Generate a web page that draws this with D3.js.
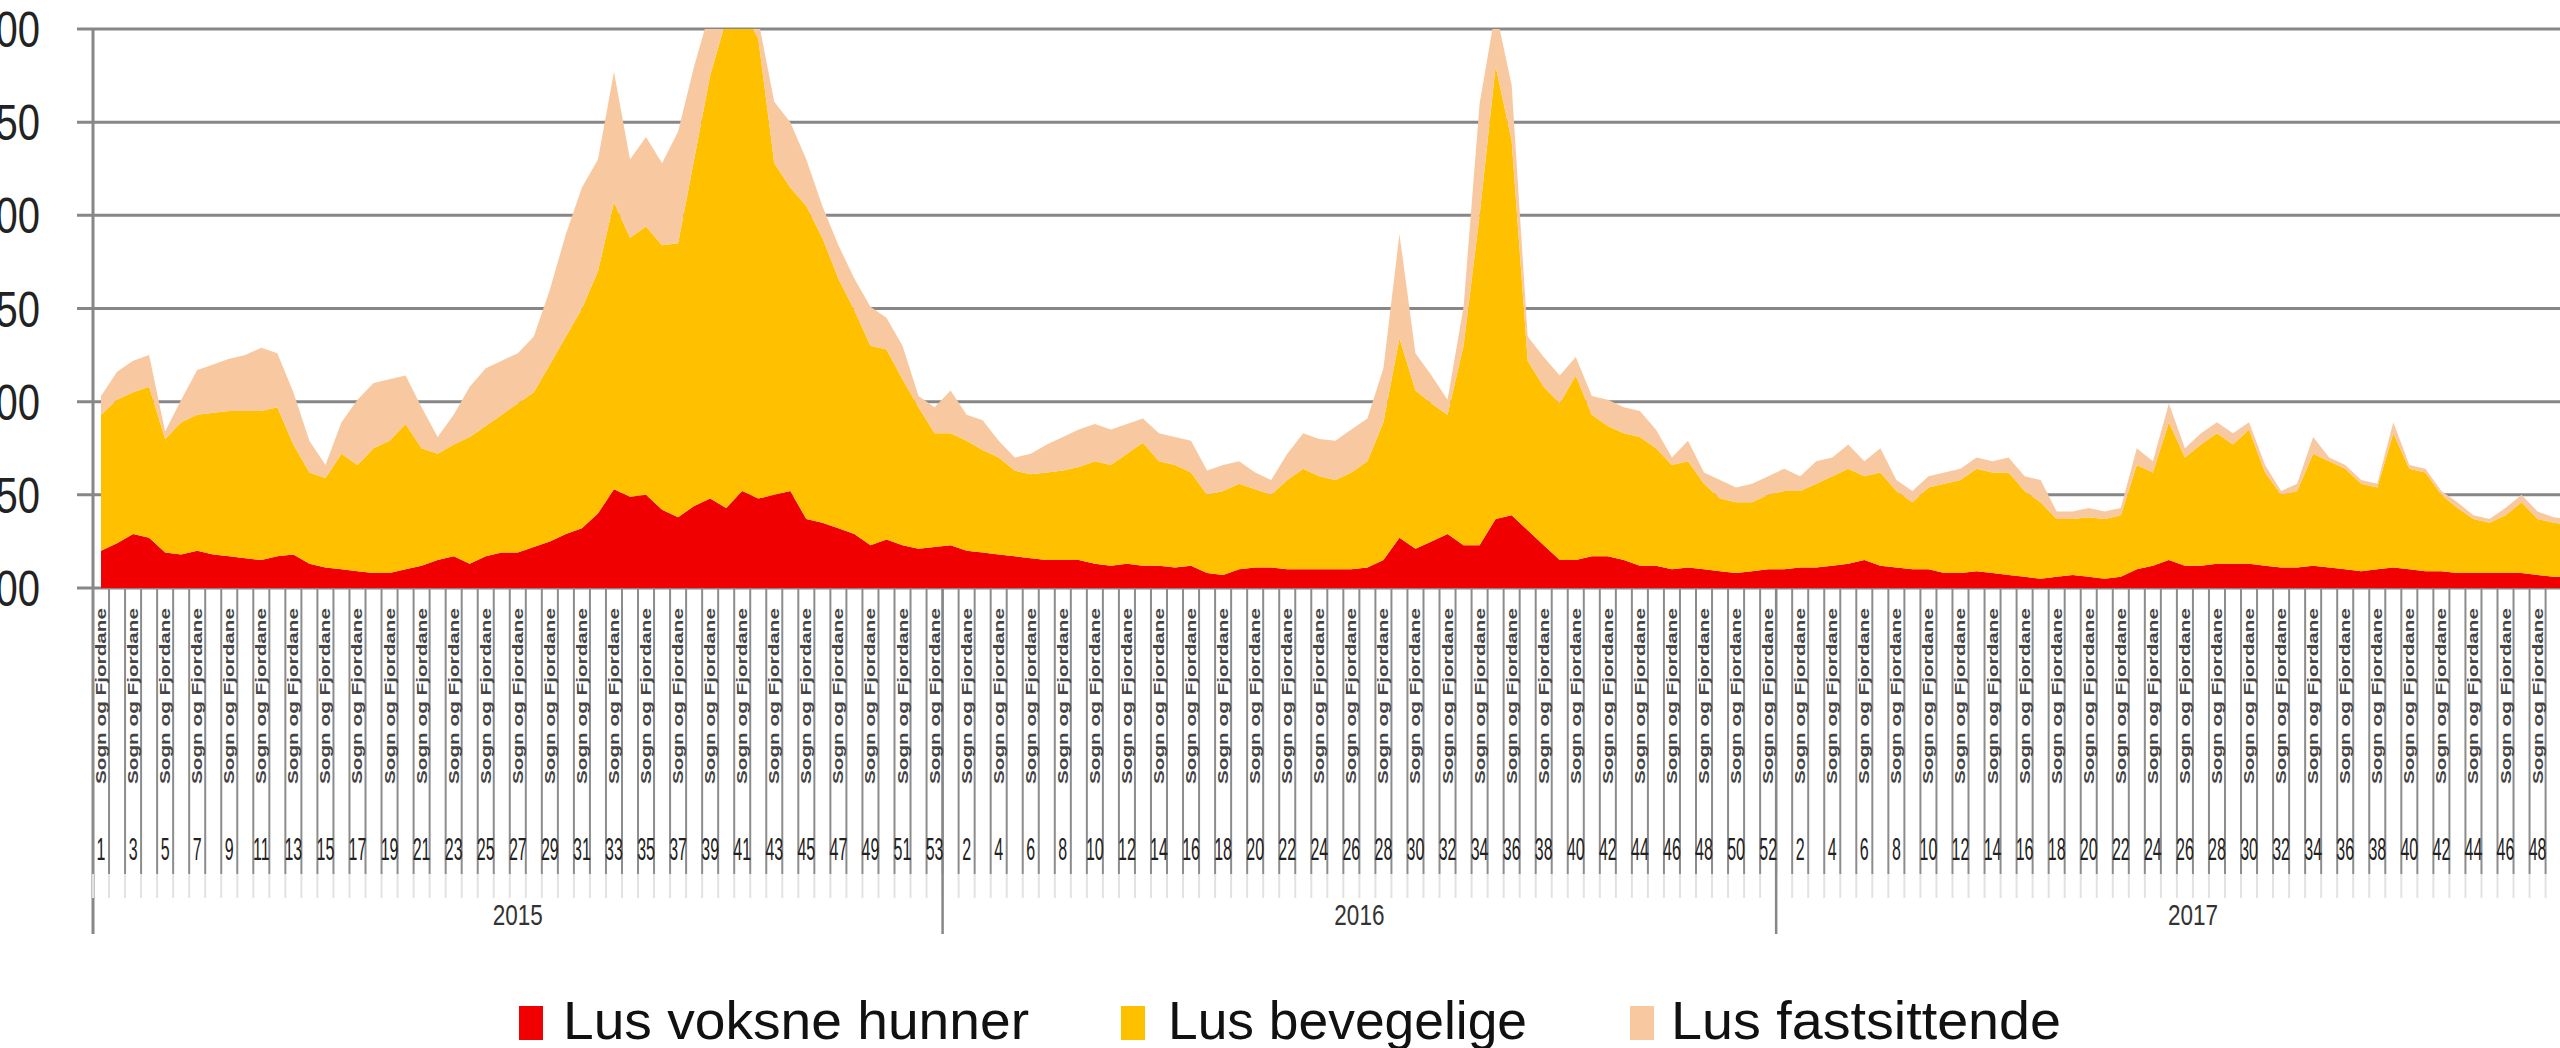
<!DOCTYPE html>
<html>
<head>
<meta charset="utf-8">
<script src="https://cdn.jsdelivr.net/npm/d3@7"></script>
<style>
    html, body { margin: 0; padding: 0; background: #fff; overflow: hidden; }
    svg { display: block; font-family: "Liberation Sans", Arial, sans-serif; }
</style>
</head>
<body>
<svg id="chart" width="2560" height="1048"></svg>
<script>
// categories: three years of weekly averages
const years = ["2015", "2016", "2017"];
const weeksPerYear = [53, 52, 52];
const regionLabel = "Sogn og Fjordane";

const yTicks = [0, 0.5, 1, 1.5, 2, 2.5, 3];
const yTickLabels = ["0,00", "0,50", "1,00", "1,50", "2,00", "2,50", "3,00"];

const seriesNames = ["Lus voksne hunner", "Lus bevegelige", "Lus fastsittende"];
const seriesColors = ["#f00000", "#ffc000", "#f8c9a0"];

// one value per week
const voksneHunner = [
    0.20, 0.24, 0.29, 0.27, 0.19, 0.18, 0.20, 0.18, 0.17, 0.16,
    0.15, 0.17, 0.18, 0.13, 0.11, 0.10, 0.09, 0.08, 0.08, 0.10,
    0.12, 0.15, 0.17, 0.13, 0.17, 0.19, 0.19, 0.22, 0.25, 0.29,
    0.32, 0.40, 0.53, 0.49, 0.50, 0.42, 0.38, 0.44, 0.48, 0.43,
    0.52, 0.48, 0.50, 0.52, 0.37, 0.35, 0.32, 0.29, 0.23, 0.26,
    0.23, 0.21, 0.22, 0.23, 0.20, 0.19, 0.18, 0.17, 0.16, 0.15,
    0.15, 0.15, 0.13, 0.12, 0.13, 0.12, 0.12, 0.11, 0.12, 0.08,
    0.07, 0.10, 0.11, 0.11, 0.10, 0.10, 0.10, 0.10, 0.10, 0.11,
    0.15, 0.27, 0.21, 0.25, 0.29, 0.23, 0.23, 0.37, 0.39, 0.31,
    0.23, 0.15, 0.15, 0.17, 0.17, 0.15, 0.12, 0.12, 0.10, 0.11,
    0.10, 0.09, 0.08, 0.09, 0.10, 0.10, 0.11, 0.11, 0.12, 0.13,
    0.15, 0.12, 0.11, 0.10, 0.10, 0.08, 0.08, 0.09, 0.08, 0.07,
    0.06, 0.05, 0.06, 0.07, 0.06, 0.05, 0.06, 0.10, 0.12, 0.15,
    0.12, 0.12, 0.13, 0.13, 0.13, 0.12, 0.11, 0.11, 0.12, 0.11,
    0.10, 0.09, 0.10, 0.11, 0.10, 0.09, 0.09, 0.08, 0.08, 0.08,
    0.08, 0.08, 0.07, 0.06, 0.06
];
const bevegelige = [
    0.73, 0.77, 0.76, 0.81, 0.61, 0.71, 0.73, 0.76, 0.78, 0.79,
    0.80, 0.80, 0.59, 0.49, 0.48, 0.62, 0.57, 0.67, 0.71, 0.78,
    0.63, 0.57, 0.60, 0.68, 0.70, 0.74, 0.80, 0.83, 0.95, 1.06,
    1.18, 1.30, 1.54, 1.39, 1.44, 1.42, 1.47, 1.86, 2.27, 2.62,
    2.58, 2.47, 1.78, 1.63, 1.68, 1.53, 1.34, 1.20, 1.07, 1.02,
    0.89, 0.76, 0.61, 0.60, 0.59, 0.55, 0.52, 0.46, 0.45, 0.47,
    0.48, 0.50, 0.55, 0.54, 0.59, 0.66, 0.56, 0.55, 0.50, 0.42,
    0.45, 0.46, 0.42, 0.39, 0.48, 0.54, 0.50, 0.48, 0.52, 0.57,
    0.74, 1.07, 0.85, 0.74, 0.64, 1.07, 1.77, 2.43, 2.01, 0.91,
    0.85, 0.84, 0.99, 0.76, 0.70, 0.68, 0.69, 0.63, 0.56, 0.57,
    0.46, 0.39, 0.38, 0.37, 0.40, 0.42, 0.41, 0.45, 0.48, 0.51,
    0.45, 0.50, 0.41, 0.36, 0.44, 0.48, 0.50, 0.55, 0.54, 0.55,
    0.46, 0.41, 0.31, 0.30, 0.32, 0.32, 0.33, 0.56, 0.50, 0.74,
    0.58, 0.65, 0.70, 0.64, 0.72, 0.50, 0.39, 0.41, 0.60, 0.57,
    0.54, 0.47, 0.44, 0.72, 0.54, 0.53, 0.41, 0.35, 0.29, 0.27,
    0.31, 0.38, 0.30, 0.29, 0.28
];
const fastsittende = [
    0.10, 0.15, 0.17, 0.17, 0.04, 0.12, 0.24, 0.26, 0.28, 0.30,
    0.34, 0.29, 0.28, 0.17, 0.07, 0.17, 0.35, 0.35, 0.33, 0.26,
    0.22, 0.09, 0.16, 0.27, 0.31, 0.29, 0.27, 0.30, 0.40, 0.55,
    0.65, 0.60, 0.70, 0.42, 0.48, 0.44, 0.60, 0.50, 0.35, 0.10,
    0.05, 0.10, 0.33, 0.35, 0.25, 0.17, 0.18, 0.17, 0.21, 0.17,
    0.18, 0.06, 0.14, 0.23, 0.14, 0.16, 0.09, 0.07, 0.11, 0.15,
    0.18, 0.20, 0.20, 0.19, 0.16, 0.13, 0.15, 0.15, 0.17, 0.13,
    0.14, 0.12, 0.09, 0.08, 0.14, 0.19, 0.20, 0.21, 0.23, 0.23,
    0.29, 0.56, 0.20, 0.15, 0.08, 0.21, 0.60, 0.30, 0.30, 0.13,
    0.16, 0.15, 0.10, 0.10, 0.14, 0.14, 0.14, 0.10, 0.04, 0.11,
    0.06, 0.10, 0.08, 0.10, 0.10, 0.12, 0.08, 0.12, 0.10, 0.13,
    0.08, 0.13, 0.06, 0.06, 0.06, 0.06, 0.06, 0.06, 0.06, 0.08,
    0.08, 0.12, 0.04, 0.04, 0.05, 0.04, 0.04, 0.09, 0.06, 0.10,
    0.05, 0.06, 0.06, 0.06, 0.04, 0.04, 0.02, 0.04, 0.09, 0.02,
    0.02, 0.02, 0.02, 0.06, 0.02, 0.02, 0.02, 0.03, 0.02, 0.02,
    0.04, 0.04, 0.04, 0.03, 0.03
];

// week categories, one per (year, week)
const categories = [];
years.forEach((yr, yi) => {
    for (let w = 1; w <= weeksPerYear[yi]; w++) categories.push({year: yr, week: w});
});

const svg = d3.select("#chart");
const plot = {left: 93, top: 29, bottom: 588, right: 2560};
const step = 16.03;
const gridColor = "#878787";

const x = d3.scaleBand()
    .domain(d3.range(categories.length))
    .range([plot.left, plot.left + step * categories.length])
    .padding(0);
const xc = i => x(i) + x.bandwidth() / 2;

const y = d3.scaleLinear().domain([0, 3]).range([plot.bottom, plot.top]);

// gridlines (behind the areas)
svg.append("g").selectAll("line")
    .data(yTicks)
    .join("line")
    .attr("x1", plot.left - 16).attr("x2", plot.right)
    .attr("y1", d => y(d)).attr("y2", d => y(d))
    .attr("stroke", gridColor).attr("stroke-width", 3);

// stacked areas
const table = categories.map((c, i) => ({
    i: i,
    voksne: voksneHunner[i],
    bevegelige: bevegelige[i],
    fastsittende: fastsittende[i]
})).filter(d => d.voksne !== undefined);

const stack = d3.stack().keys(["voksne", "bevegelige", "fastsittende"]);
const layers = stack(table);

svg.append("clipPath").attr("id", "plotClip")
    .append("rect")
    .attr("x", plot.left).attr("y", plot.top)
    .attr("width", plot.right - plot.left).attr("height", plot.bottom - plot.top);

const area = d3.area()
    .x(d => xc(d.data.i))
    .y0(d => y(d[0]))
    .y1(d => y(d[1]));

svg.append("g").attr("clip-path", "url(#plotClip)")
    .selectAll("path")
    .data(layers)
    .join("path")
    .attr("d", area)
    .attr("fill", (d, i) => seriesColors[i]);

// value axis
svg.append("line")
    .attr("x1", plot.left).attr("x2", plot.left)
    .attr("y1", plot.top - 1).attr("y2", 934)
    .attr("stroke", gridColor).attr("stroke-width", 3);

svg.append("g").selectAll("text")
    .data(yTicks)
    .join("text")
    .attr("transform", d => `translate(40,${y(d) + 18}) scale(0.8,1)`)
    .attr("text-anchor", "end")
    .attr("font-size", 50)
    .attr("fill", "#222")
    .text((d, i) => yTickLabels[i]);

// category axis: tick lines between every week
const boundaries = d3.range(categories.length + 1);
const tickGroup = svg.append("g");
tickGroup.selectAll("line.tick")
    .data(boundaries)
    .join("line")
    .attr("class", "tick")
    .attr("x1", d => plot.left + d * step).attr("x2", d => plot.left + d * step)
    .attr("y1", plot.bottom).attr("y2", 874)
    .attr("stroke", "#8c8c8c").attr("stroke-width", 2);
tickGroup.selectAll("line.fade")
    .data(boundaries)
    .join("line")
    .attr("class", "fade")
    .attr("x1", d => plot.left + d * step).attr("x2", d => plot.left + d * step)
    .attr("y1", 874).attr("y2", 898)
    .attr("stroke", "#e2e2e2").attr("stroke-width", 2);

// year separators
const yearStarts = [0];
weeksPerYear.forEach((n, i) => yearStarts.push(yearStarts[i] + n));
svg.append("g").selectAll("line")
    .data(yearStarts.slice(1, -1))
    .join("line")
    .attr("x1", d => plot.left + d * step).attr("x2", d => plot.left + d * step)
    .attr("y1", plot.bottom).attr("y2", 934)
    .attr("stroke", gridColor).attr("stroke-width", 2.5);

// innermost level: rotated labels on every other category
const labelled = categories.map((c, i) => i).filter(i => i % 2 === 0);
svg.append("g").selectAll("text")
    .data(labelled)
    .join("text")
    .attr("transform", i => `translate(${xc(i) + 5},784) rotate(-90)`)
    .attr("font-size", 14)
    .attr("font-weight", "bold")
    .attr("fill", "#444")
    .attr("textLength", 176)
    .attr("lengthAdjust", "spacingAndGlyphs")
    .text(regionLabel);

// week numbers
svg.append("g").selectAll("text")
    .data(labelled)
    .join("text")
    .attr("transform", i => `translate(${xc(i)},860) scale(0.5,1)`)
    .attr("text-anchor", "middle")
    .attr("font-size", 32)
    .attr("fill", "#222")
    .text(i => categories[i].week);

// years
svg.append("g").selectAll("text")
    .data(years)
    .join("text")
    .attr("transform", (d, i) => {
        const cx = plot.left + step * (yearStarts[i] + yearStarts[i + 1]) / 2;
        return `translate(${cx},925) scale(0.75,1)`;
    })
    .attr("text-anchor", "middle")
    .attr("font-size", 30)
    .attr("fill", "#333")
    .text(d => d);

// legend
const legendItems = [
    {box: 519, text: 563, width: 466},
    {box: 1121, text: 1168, width: 359},
    {box: 1630, text: 1671, width: 390}
];
const legend = svg.append("g");
legend.selectAll("rect")
    .data(legendItems)
    .join("rect")
    .attr("x", d => d.box).attr("y", 1006)
    .attr("width", 24).attr("height", 34)
    .attr("fill", (d, i) => seriesColors[i]);
legend.selectAll("text")
    .data(legendItems)
    .join("text")
    .attr("x", d => d.text).attr("y", 1039)
    .attr("font-size", 54)
    .attr("fill", "#111")
    .attr("textLength", d => d.width)
    .attr("lengthAdjust", "spacingAndGlyphs")
    .text((d, i) => seriesNames[i]);
</script>
</body>
</html>
